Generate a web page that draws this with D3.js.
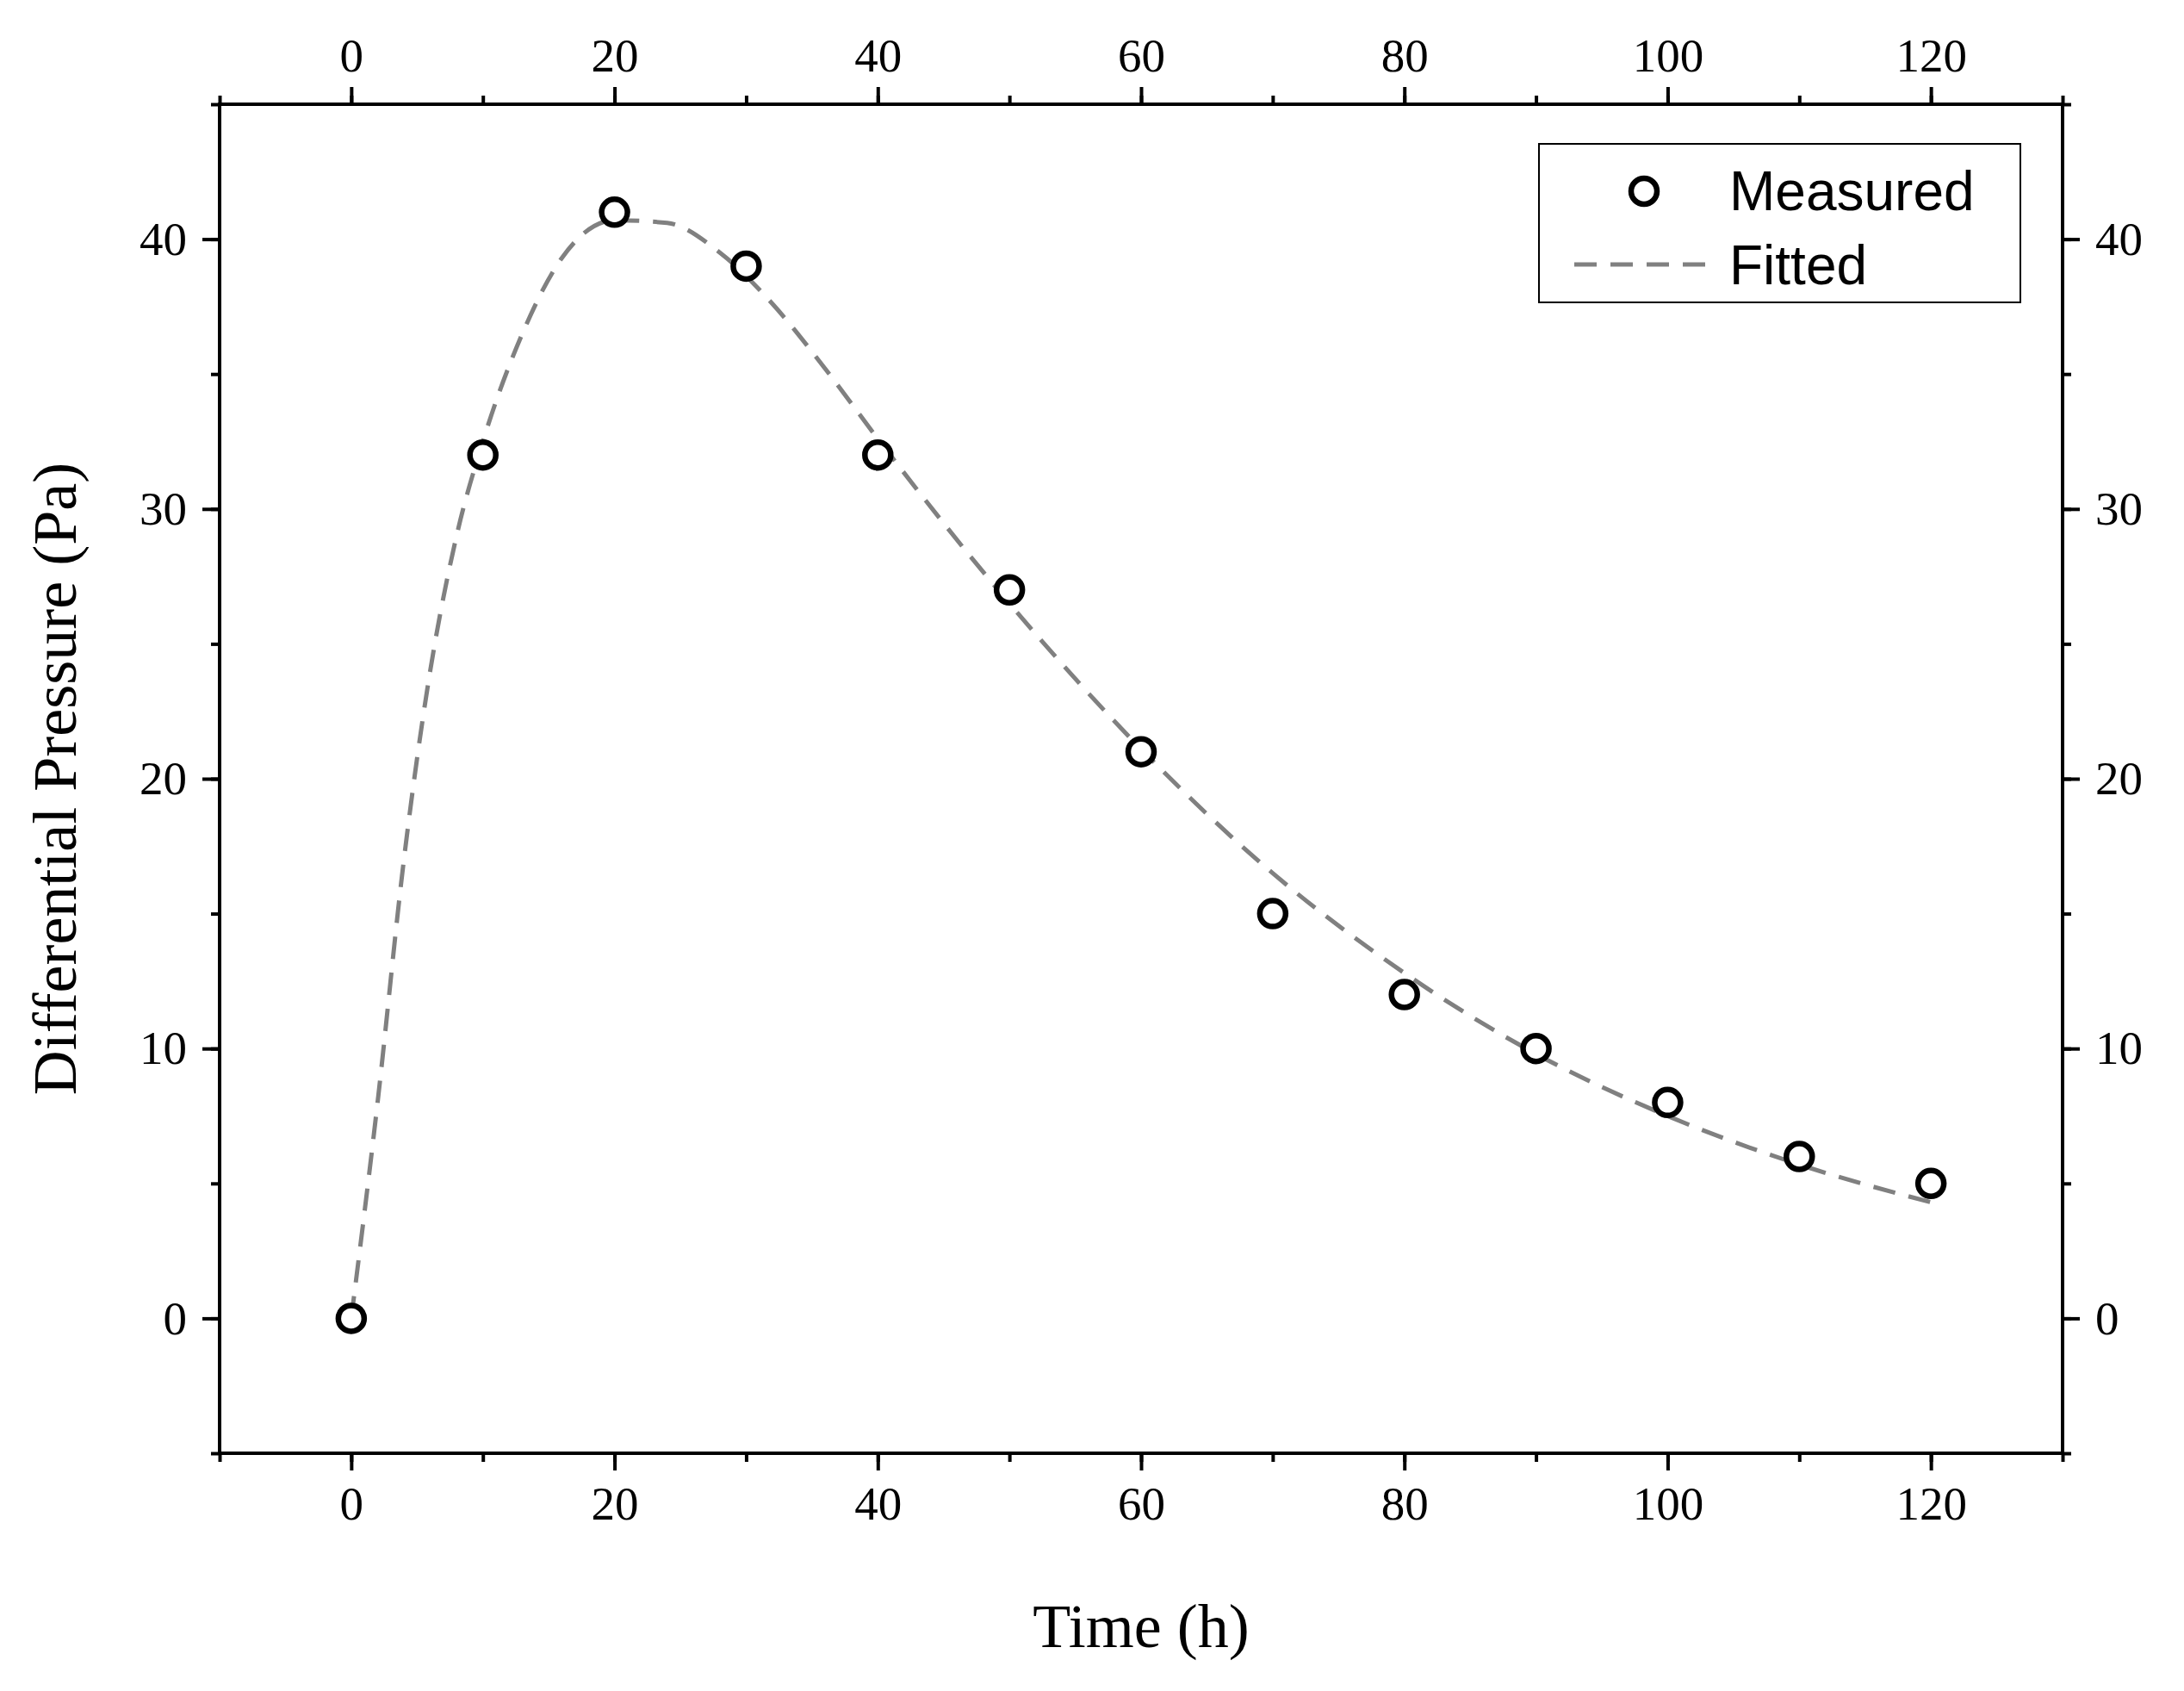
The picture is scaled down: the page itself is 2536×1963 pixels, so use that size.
<!DOCTYPE html>
<html>
<head>
<meta charset="utf-8" />
<script src="https://d3js.org/d3.v7.min.js"></script>
<style>
  body { margin: 0; background: white; }
  .tick text { font-family: "Liberation Serif", serif; font-size: 55px; }
</style>
</head>
<body>
<svg id="chart" width="2536" height="1963"></svg>
<script>
// measured points
var measuredTime = [0, 10, 20, 30, 40, 50, 60, 70, 80, 90, 100, 110, 120];
var measuredDp = [0, 32, 41, 39, 32, 27, 21, 15, 12, 10, 8, 6, 5];

// fitted curve
var fittedTime = [0, 2, 4, 6, 8, 10, 13, 16, 20, 24, 28, 32, 36, 40, 50, 60, 70, 80, 90, 100, 110, 120];
var fittedDp = [0, 8, 17, 24, 29, 32.5, 36.5, 39.3, 40.7, 40.6, 39.5, 37.6, 35.2, 32.6, 26.5, 21.1, 16.5, 12.8, 9.8, 7.5, 5.7, 4.3];

var xTicks = [0, 20, 40, 60, 80, 100, 120];
var yTicks = [0, 10, 20, 30, 40];

var svg = d3.select("#chart");
var plotLeft = 255, plotRight = 2395, plotTop = 121, plotBottom = 1687;

var x = d3.scaleLinear().domain([-10, 130]).range([plotLeft, plotRight]);
var y = d3.scaleLinear().domain([-5, 45]).range([plotBottom, plotTop]);

function styleAxis(g) {
    g.select(".domain").remove();
    g.selectAll("line").attr("stroke", "black").attr("stroke-width", 4);
}

var xMinor = d3.range(-10, 131, 10), yMinor = d3.range(-5, 46, 5);

// minor ticks
[["bottom", d3.axisBottom, x, xMinor, plotBottom], ["top", d3.axisTop, x, xMinor, plotTop],
 ["left", d3.axisLeft, y, yMinor, plotLeft], ["right", d3.axisRight, y, yMinor, plotRight]].forEach(function(a) {
    var horiz = a[0] == "bottom" || a[0] == "top";
    svg.append("g")
        .attr("transform", horiz ? "translate(0," + a[4] + ")" : "translate(" + a[4] + ",0)")
        .call(a[1](a[2]).tickValues(a[3]).tickSize(10).tickFormat(""))
        .call(styleAxis);
});

// major ticks
svg.append("g").attr("transform", "translate(0," + plotBottom + ")")
    .call(d3.axisBottom(x).tickValues(xTicks).tickSize(20).tickPadding(18)).call(styleAxis);
svg.append("g").attr("transform", "translate(0," + plotTop + ")")
    .call(d3.axisTop(x).tickValues(xTicks).tickSize(20).tickPadding(18)).call(styleAxis);
svg.append("g").attr("transform", "translate(" + plotLeft + ",0)")
    .call(d3.axisLeft(y).tickValues(yTicks).tickSize(20).tickPadding(18)).call(styleAxis);
svg.append("g").attr("transform", "translate(" + plotRight + ",0)")
    .call(d3.axisRight(y).tickValues(yTicks).tickSize(20).tickPadding(18)).call(styleAxis);

svg.append("rect")
    .attr("x", plotLeft).attr("y", plotTop)
    .attr("width", plotRight - plotLeft).attr("height", plotBottom - plotTop)
    .attr("fill", "none").attr("stroke", "black").attr("stroke-width", 4);

// fitted line
var line = d3.line()
    .x(function(d, i) { return x(fittedTime[i]); })
    .y(function(d) { return y(d); })
    .curve(d3.curveMonotoneX);
svg.append("path")
    .attr("d", line(fittedDp))
    .attr("fill", "none").attr("stroke", "#808080")
    .attr("stroke-width", 5).attr("stroke-dasharray", "26,16");

// measured markers
svg.selectAll("circle.pt").data(measuredDp).enter().append("circle")
    .attr("class", "pt")
    .attr("cx", function(d, i) { return x(measuredTime[i]); })
    .attr("cy", function(d) { return y(d); })
    .attr("r", 15)
    .attr("fill", "white").attr("stroke", "black").attr("stroke-width", 6.5);

// axis titles
svg.append("text")
    .attr("x", (plotLeft + plotRight) / 2).attr("y", 1912)
    .attr("text-anchor", "middle")
    .style("font-family", "Liberation Serif").style("font-size", "72px")
    .text("Time (h)");
svg.append("text")
    .attr("transform", "translate(88," + (plotTop + plotBottom) / 2 + ") rotate(-90)")
    .attr("text-anchor", "middle")
    .style("font-family", "Liberation Serif").style("font-size", "72px")
    .text("Differential Pressure (Pa)");

// legend
var legend = svg.append("g");
legend.append("rect")
    .attr("x", 1787).attr("y", 167).attr("width", 559).attr("height", 184)
    .attr("fill", "white").attr("stroke", "black").attr("stroke-width", 2);
legend.append("circle")
    .attr("cx", 1909).attr("cy", 222).attr("r", 15)
    .attr("fill", "white").attr("stroke", "black").attr("stroke-width", 6.5);
legend.append("line")
    .attr("x1", 1828).attr("x2", 1990).attr("y1", 307).attr("y2", 307)
    .attr("stroke", "#808080").attr("stroke-width", 5).attr("stroke-dasharray", "26,16");
legend.append("text").attr("x", 2008).attr("y", 244)
    .style("font-family", "Liberation Sans").style("font-size", "64px").text("Measured");
legend.append("text").attr("x", 2008).attr("y", 330)
    .style("font-family", "Liberation Sans").style("font-size", "64px").text("Fitted");
</script>
</body>
</html>
